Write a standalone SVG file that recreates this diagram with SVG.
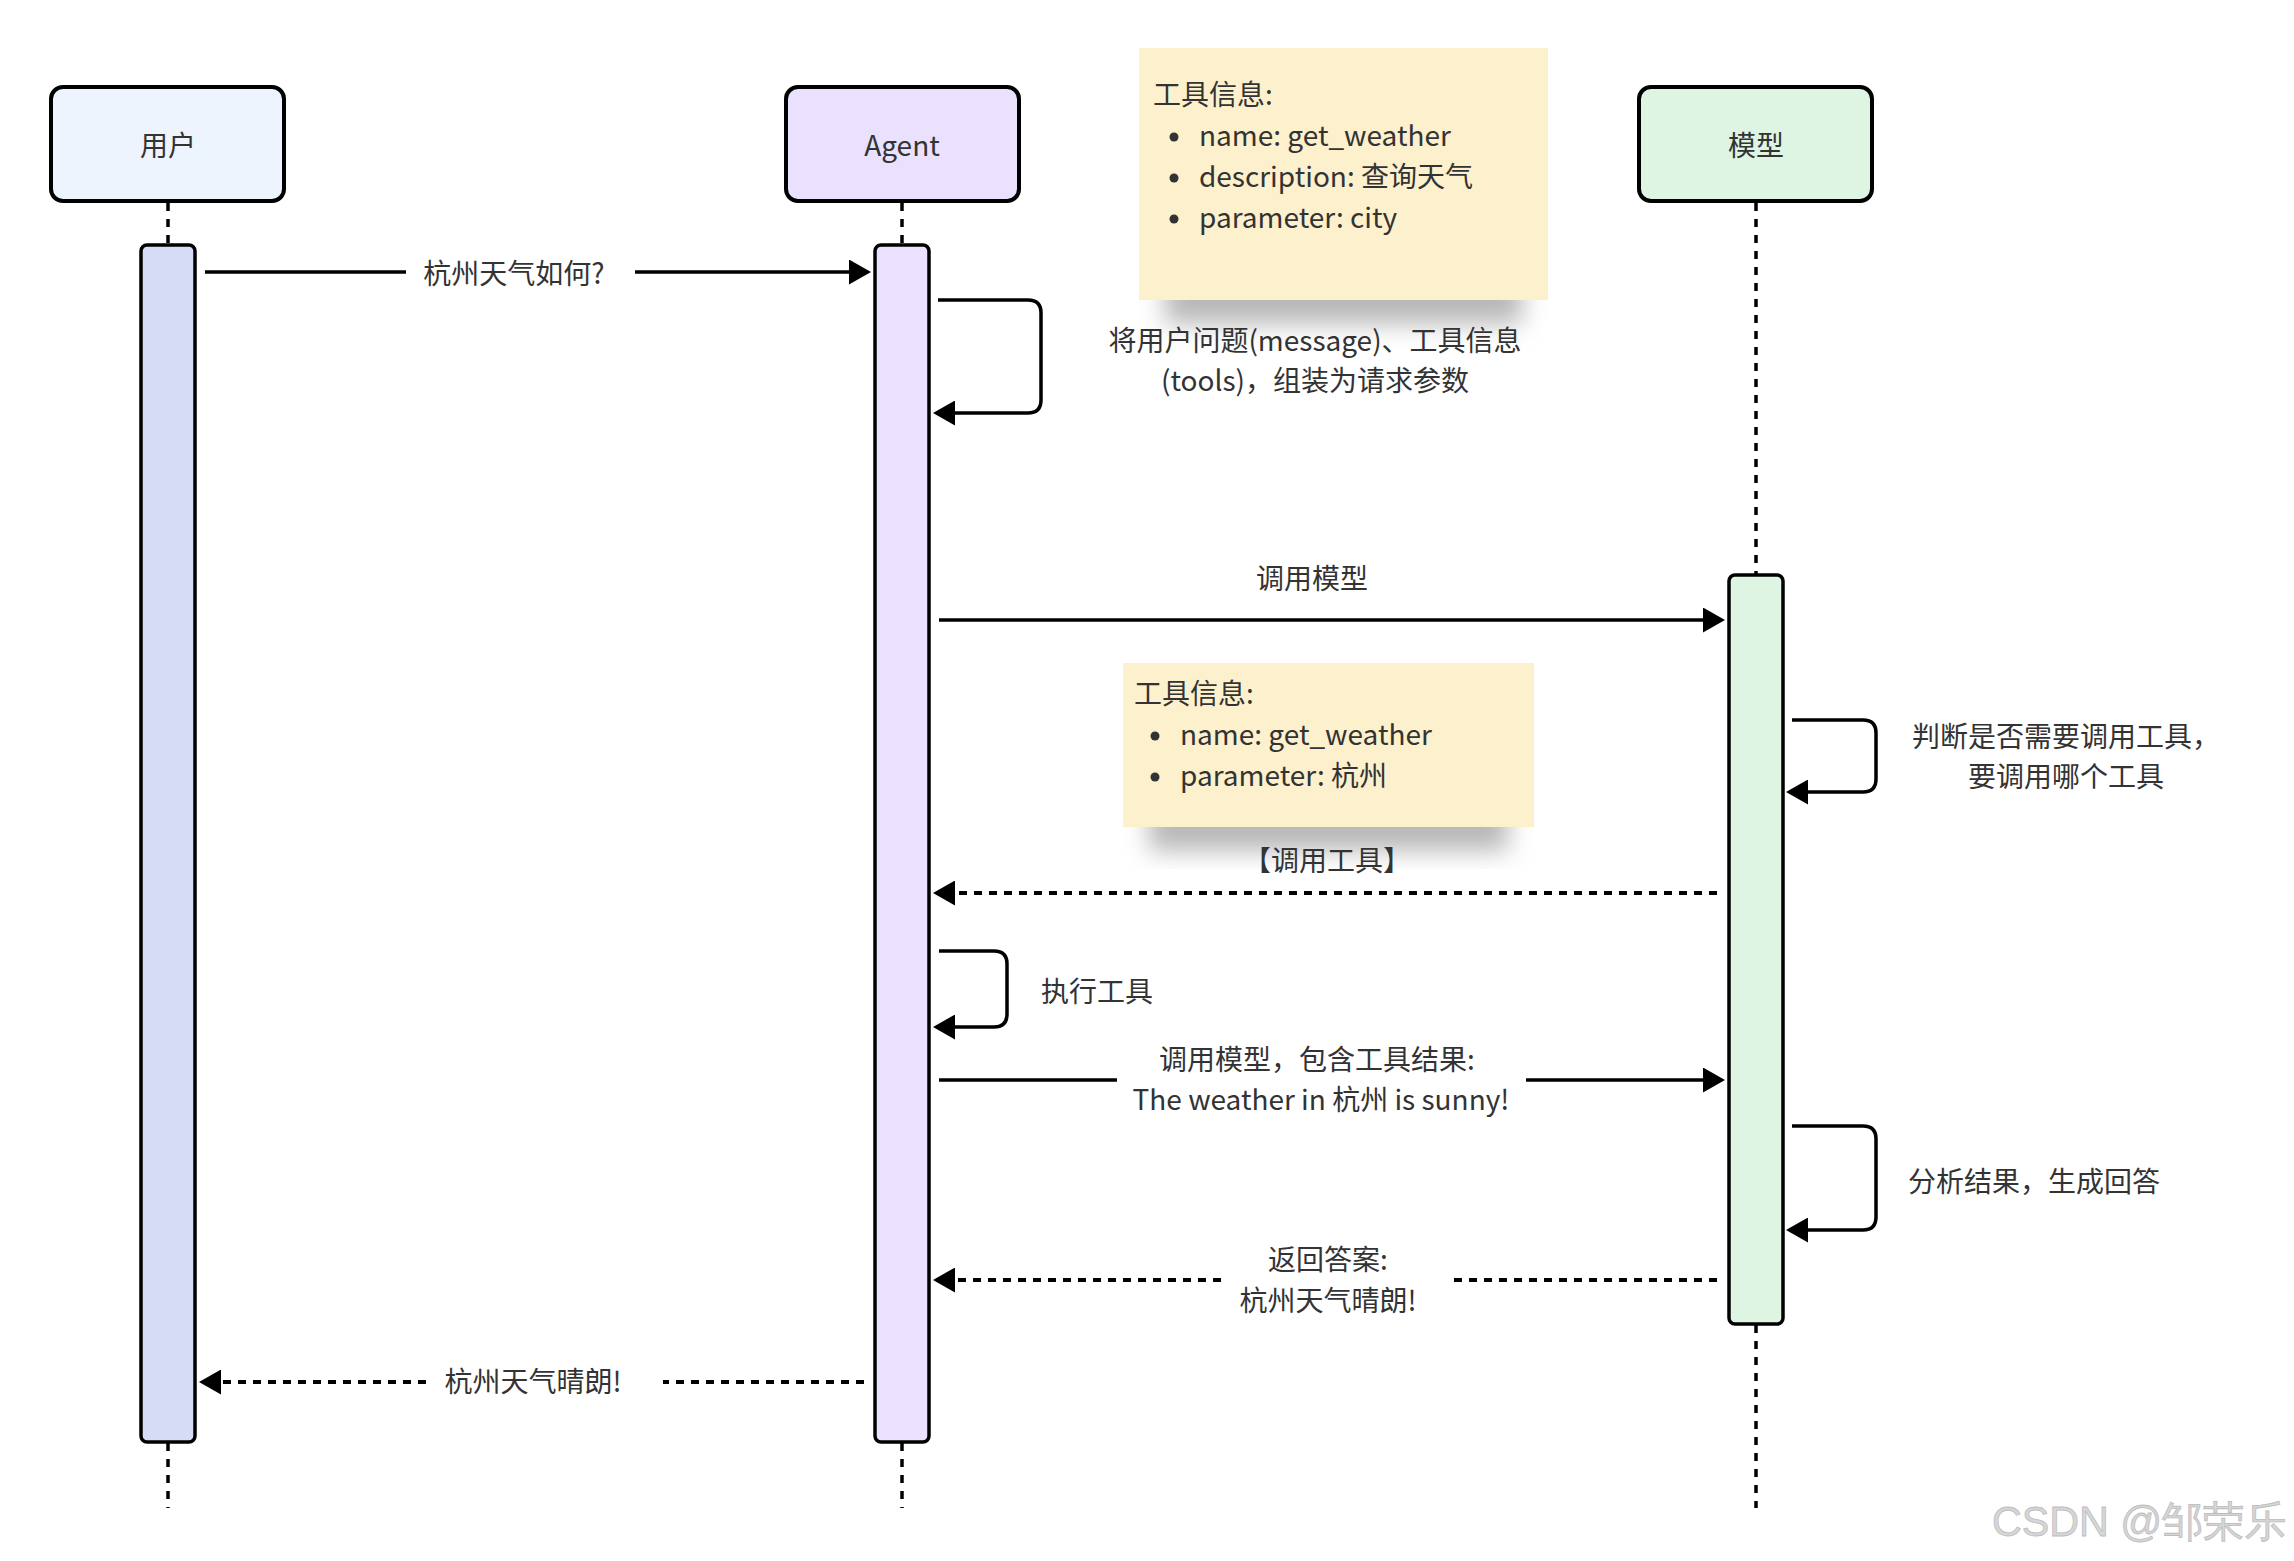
<svg xmlns="http://www.w3.org/2000/svg" width="2294" height="1561" viewBox="0 0 2294 1561">
<style>
text{font-family:'Noto Sans CJK SC','Noto Sans',sans-serif;font-size:28px;fill:#333}
.mid{text-anchor:middle}
.head{stroke:#000;stroke-width:4}
.bar{stroke:#000;stroke-width:3.5}
.life{stroke:#000;stroke-width:3.5;stroke-dasharray:8 8;fill:none}
.msg{stroke:#000;stroke-width:3.5;fill:none;marker-end:url(#ah)}
.ret{stroke:#000;stroke-width:4;fill:none;stroke-dasharray:8 7;marker-end:url(#ah)}
.seg{stroke:#000;stroke-width:3.5;fill:none}
.segd{stroke:#000;stroke-width:4;fill:none;stroke-dasharray:8 7}
.note{fill:#fdf0cd}
.wm{font-family:'Liberation Sans',sans-serif;font-size:42px;fill:#d6d6d6;stroke:#bdbdbd;stroke-width:0.8}
</style>
<defs>
<marker id="ah" markerUnits="userSpaceOnUse" markerWidth="22" markerHeight="25" viewBox="0 0 22 25" refX="12" refY="12.5" orient="auto">
<path d="M0 0 L22 12.5 L0 25 Z" fill="#000"/>
</marker>
<filter id="blur" x="-20%" y="-100%" width="140%" height="300%">
<feGaussianBlur stdDeviation="12"/>
</filter>
<clipPath id="sh1"><rect x="1139" y="300" width="409" height="52"/></clipPath>
<clipPath id="sh2"><rect x="1123" y="827" width="411" height="42"/></clipPath>
</defs>
<rect width="2294" height="1561" fill="#fff"/>

<g id="lifelines">
<line class="life" x1="168" y1="203" x2="168" y2="244"/>
<line class="life" x1="168" y1="1443" x2="168" y2="1508"/>
<line class="life" x1="902" y1="203" x2="902" y2="244"/>
<line class="life" x1="902" y1="1443" x2="902" y2="1508"/>
<line class="life" x1="1756" y1="203" x2="1756" y2="574"/>
<line class="life" x1="1756" y1="1325" x2="1756" y2="1508"/>
</g>

<g id="node-user">
<rect class="head" x="51" y="87" width="233" height="114" rx="12" fill="#eef4fd"/>
<text class="mid" x="168" y="156">用户</text>
<rect class="bar" x="141" y="245" width="54" height="1197" rx="6" fill="#d6dcf5"/>
</g>
<g id="node-agent">
<rect class="head" x="786" y="87" width="233" height="114" rx="12" fill="#e9e1fd"/>
<text class="mid" x="902" y="156">Agent</text>
<rect class="bar" x="875" y="245" width="54" height="1197" rx="6" fill="#e9e1fd"/>
</g>
<g id="node-model">
<rect class="head" x="1639" y="87" width="233" height="114" rx="12" fill="#dff5e4"/>
<text class="mid" x="1756" y="156">模型</text>
<rect class="bar" x="1729" y="575" width="54" height="749" rx="6" fill="#dff5e4"/>
</g>

<g id="note-1">
<g clip-path="url(#sh1)"><rect x="1165" y="272" width="357" height="52" fill="#b8b8b8" filter="url(#blur)"/></g>
<rect class="note" x="1139" y="48" width="409" height="252"/>
<text x="1153" y="105">工具信息:</text>
<circle cx="1174" cy="137" r="4.5" fill="#333"/>
<text x="1199" y="146">name: get_weather</text>
<circle cx="1174" cy="178" r="4.5" fill="#333"/>
<text x="1199" y="187">description: 查询天气</text>
<circle cx="1174" cy="219" r="4.5" fill="#333"/>
<text x="1199" y="228">parameter: city</text>
</g>

<g id="note-2">
<g clip-path="url(#sh2)"><rect x="1149" y="799" width="359" height="52" fill="#b8b8b8" filter="url(#blur)"/></g>
<rect class="note" x="1123" y="663" width="411" height="164"/>
<text x="1134" y="704">工具信息:</text>
<circle cx="1155" cy="736" r="4.5" fill="#333"/>
<text x="1180" y="745">name: get_weather</text>
<circle cx="1155" cy="777" r="4.5" fill="#333"/>
<text x="1180" y="786">parameter: 杭州</text>
</g>

<g id="connectors">
<path class="seg" d="M205 272 H406"/>
<path class="msg" d="M635 272 H861"/>
<path class="msg" d="M938 300 H1028 Q1041 300 1041 313 V400 Q1041 413 1028 413 H943"/>
<path class="msg" d="M939 620 H1715"/>
<path class="msg" d="M1792 720 H1863 Q1876 720 1876 733 V779 Q1876 792 1863 792 H1796"/>
<path class="ret" d="M1717 893 H943"/>
<path class="msg" d="M939 951 H994 Q1007 951 1007 964 V1014 Q1007 1027 994 1027 H943"/>
<path class="seg" d="M939 1080 H1117"/>
<path class="msg" d="M1526 1080 H1715"/>
<path class="msg" d="M1792 1126 H1863 Q1876 1126 1876 1139 V1217 Q1876 1230 1863 1230 H1796"/>
<path class="segd" d="M1717 1280 H1453"/>
<path class="ret" d="M1221 1280 H943"/>
<path class="segd" d="M864 1382 H663"/>
<path class="ret" d="M426 1382 H209"/>
</g>

<g id="labels">
<text class="mid" x="514" y="284">杭州天气如何?</text>
<text class="mid" x="1315" y="351">将用户问题(message)、工具信息</text>
<text class="mid" x="1315" y="391">(tools)，组装为请求参数</text>
<text class="mid" x="1312" y="589">调用模型</text>
<text class="mid" x="2066" y="747">判断是否需要调用工具，</text>
<text class="mid" x="2066" y="787">要调用哪个工具</text>
<text class="mid" x="1327" y="871">【调用工具】</text>
<text x="1041" y="1002">执行工具</text>
<text class="mid" x="1317" y="1070">调用模型，包含工具结果:</text>
<text class="mid" x="1321" y="1110">The weather in 杭州 is sunny!</text>
<text x="1908" y="1192">分析结果，生成回答</text>
<text class="mid" x="1328" y="1270">返回答案:</text>
<text class="mid" x="1328" y="1311">杭州天气晴朗!</text>
<text class="mid" x="533" y="1392">杭州天气晴朗!</text>
</g>

<text class="wm" x="1992" y="1536" textLength="294" lengthAdjust="spacingAndGlyphs">CSDN @邹荣乐</text>
</svg>
